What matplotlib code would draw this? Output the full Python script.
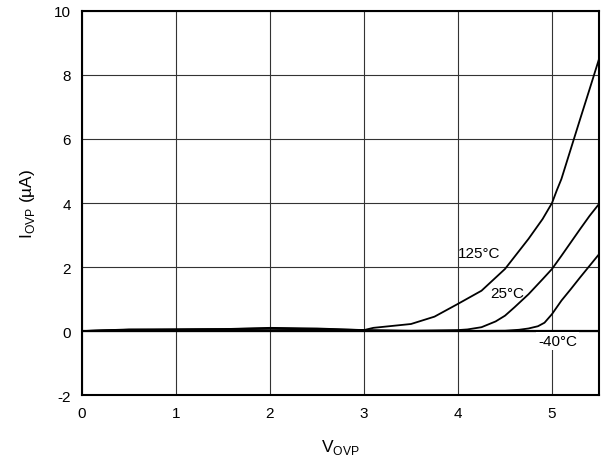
import numpy as np
import matplotlib
matplotlib.use("Agg")
import matplotlib.pyplot as plt

plt.rcParams["font.family"] = ["Liberation Sans", "DejaVu Sans"]
plt.rcParams["mathtext.fontset"] = "custom"
plt.rcParams["mathtext.rm"] = "Liberation Sans"
plt.rcParams["axes.unicode_minus"] = False

# значения
v_125 = [0.0, 0.5, 1.0, 1.5, 2.0, 2.5, 3.0, 3.1, 3.5, 3.75, 4.0, 4.25, 4.5, 4.75, 4.9, 5.0, 5.05, 5.1, 5.2, 5.3, 5.4, 5.5]
i_125 = [0.0, 0.05, 0.05, 0.06, 0.08, 0.06, 0.03, 0.1, 0.22, 0.45, 0.85, 1.26, 1.94, 2.88, 3.5, 4.0, 4.39, 4.75, 5.69, 6.63, 7.56, 8.5]

v_25 = [0.0, 0.5, 1.0, 1.5, 2.0, 2.5, 3.0, 3.5, 4.0, 4.1, 4.25, 4.4, 4.5, 4.6, 4.75, 4.9, 5.0, 5.1, 5.2, 5.3, 5.4, 5.5]
i_25 = [0.0, 0.04, 0.05, 0.06, 0.1, 0.08, 0.03, 0.01, 0.03, 0.05, 0.12, 0.3, 0.48, 0.74, 1.15, 1.62, 1.94, 2.35, 2.77, 3.19, 3.6, 3.97]

v_m40 = [0.0, 0.5, 1.0, 1.5, 2.0, 2.5, 3.0, 3.5, 4.0, 4.5, 4.65, 4.75, 4.85, 4.92, 5.0, 5.1, 5.2, 5.3, 5.4, 5.5]
i_m40 = [0.0, 0.03, 0.04, 0.05, 0.07, 0.05, 0.02, 0.0, 0.0, 0.01, 0.04, 0.08, 0.15, 0.26, 0.53, 0.95, 1.31, 1.68, 2.04, 2.4]

fig = plt.figure(figsize=(6.01, 4.6), dpi=100)
ax = fig.add_axes([0.1364, 0.139, 0.8603, 0.835])

for x, y in [(v_125, i_125), (v_25, i_25), (v_m40, i_m40)]:
    ax.plot(x, y, color="black", lw=1.3, zorder=3)

ax.set_xlim(0, 5.5); ax.set_ylim(-2, 10)
ax.set_xticks(range(6)); ax.set_yticks(range(-2, 11, 2))
ax.grid(color="#333333", lw=0.8)
ax.axhline(0, color="black", lw=1.6, zorder=2)
ax.tick_params(length=0, labelsize=11, pad=8)
for s in ax.spines.values():
    s.set_linewidth(1.5)

ax.text(4.0, 2.45, "125°C", fontsize=11, va="center")
ax.text(4.34, 1.2, "25°C", fontsize=11, va="center")
ax.text(4.85, -0.3, "-40°C", fontsize=11, va="center",
        bbox=dict(facecolor="white", edgecolor="none", pad=1.5), zorder=4)

ax.set_xlabel(r"V$_{\mathregular{OVP}}$", fontsize=12.5, labelpad=12)
ax.set_ylabel(r"I$_{\mathregular{OVP}}$ (µA)", fontsize=12.5, labelpad=12)

fig.savefig("out.png", dpi=100)
